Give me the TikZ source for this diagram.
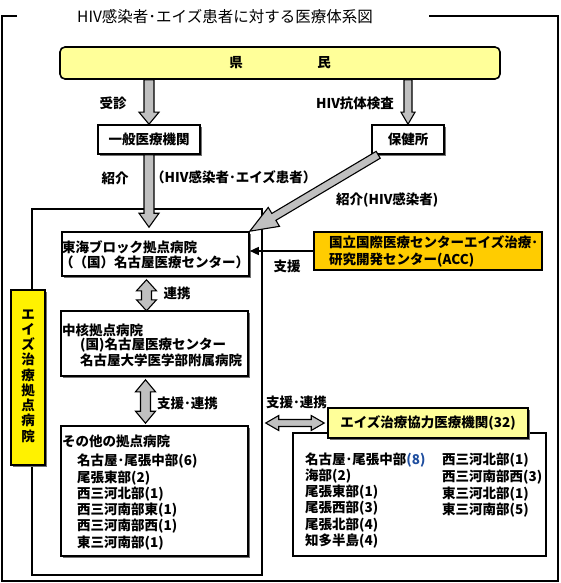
\documentclass[tikz,border=0pt]{standalone}
\usepackage{fontspec}
\setmainfont{Noto Sans CJK JP}
\usetikzlibrary{calc,shadows,arrows.meta}
\definecolor{ltyellow}{HTML}{FFFF99}
\definecolor{accorange}{HTML}{FFCC00}
\definecolor{arrowgray}{HTML}{C0C0C0}
\definecolor{numblue}{HTML}{1F4E9F}
\newcommand\blkarrow[5]{%
  \coordinate (bs) at (#1);
  \coordinate (bt) at (#2);
  \coordinate (bb) at ($(bt)!#5!(bs)$);
  \filldraw[blk] ($(bs)!#3!90:(bt)$) -- ($(bb)!#3!90:(bt)$) -- ($(bb)!#4!90:(bt)$) -- (bt)
    -- ($(bb)!#4!-90:(bt)$) -- ($(bb)!#3!-90:(bt)$) -- ($(bs)!#3!-90:(bt)$) -- cycle;
}
\newcommand\dblarrow[5]{%
  \coordinate (ds) at (#1);
  \coordinate (dt) at (#2);
  \coordinate (db1) at ($(ds)!#5!(dt)$);
  \coordinate (db2) at ($(dt)!#5!(ds)$);
  \filldraw[blk] (ds) -- ($(db1)!#4!90:(dt)$) -- ($(db1)!#3!90:(dt)$) -- ($(db2)!#3!-90:(ds)$)
    -- ($(db2)!#4!-90:(ds)$) -- (dt) -- ($(db2)!#4!90:(ds)$) -- ($(db2)!#3!90:(ds)$)
    -- ($(db1)!#3!-90:(dt)$) -- ($(db1)!#4!-90:(dt)$) -- cycle;
}
\tikzset{
  every node/.style={font=\bfseries\fontsize{13.5}{15}\selectfont, inner sep=0pt},
  box/.style={draw, line width=1.6pt, fill=white, rectangle},
  shad/.style={general shadow={fill=black!55, shadow xshift=2pt, shadow yshift=-2pt}},
  framebox/.style={draw, line width=1.5pt, rectangle},
  blk/.style={fill=arrowgray, draw=black, line width=1.1pt, line join=miter},
  txt/.style={anchor=west},
}
\begin{document}
\begin{tikzpicture}[x=1pt, y=-1pt]
\useasboundingbox (0,0) rectangle (560,583);
\fill[white] (0,0) rectangle (560,583);
% outer frame
\draw[line width=1.5pt] (17,16) -- (2,16) -- (2,581) -- (558,581) -- (558,16) -- (429,16);
\node[font=\fontsize{15.5}{17}\selectfont] (title) at (225,17) {HIV感染者･エイズ患者に対する医療体系図};
% top
\node[box, fill=ltyellow, rounded corners=5pt, minimum width=440pt, minimum height=32pt] (kenmin) at (280,63) {};
\node (ken) at (236,63) {県};
\node (min) at (324,63) {民};
\node[box, shad, minimum width=102pt, minimum height=29pt] (ippan) at (149,139.5) {一般医療機関};
\node[box, shad, minimum width=72pt, minimum height=29pt] (hoken) at (408,139.5) {保健所};
% inner frame
\node[framebox, minimum width=230pt, minimum height=366pt] (inner) at (147,392) {};
\node[box, shad, fill=yellow, minimum width=34pt, minimum height=175pt] (vbox) at (28,377.5) {};
\node[align=center, font=\bfseries\fontsize{13.5}{15.25}\selectfont] (vtext) at (28,376) {エ\\イ\\ズ\\治\\療\\拠\\点\\病\\院};
\node[box, shad, minimum width=187pt, minimum height=44pt] (toukai) at (155.5,254) {};
\node[txt] (t1) at (62,247) {東海ブロック拠点病院};
\node[txt] (t2) at (60,262) {（（国）名古屋医療センター）};
\node[box, shad, minimum width=187pt, minimum height=65pt] (chukaku) at (154.5,343.5) {};
\node[txt] (c1) at (62,330) {中核拠点病院};
\node[txt] (c2) at (80,345) {(国)名古屋医療センター};
\node[txt] (c3) at (80,360) {名古屋大学医学部附属病院};
\node[box, shad, minimum width=187pt, minimum height=130pt] (sonota) at (154.5,491) {};
\node[txt] (s0) at (62,441) {その他の拠点病院};
\node[txt] (s1) at (77,461.5) {名古屋･尾張中部(6)};
\node[txt] (s2) at (77,477.8) {尾張東部(2)};
\node[txt] (s3) at (77,494) {西三河北部(1)};
\node[txt] (s4) at (77,510.3) {西三河南部東(1)};
\node[txt] (s5) at (77,526.6) {西三河南部西(1)};
\node[txt] (s6) at (77,543) {東三河南部(1)};
% ACC
\node[box, fill=accorange, minimum width=228pt, minimum height=38pt] (acc) at (428,251) {};
\node[txt] (a1) at (329,242) {国立国際医療センターエイズ治療･};
\node[txt] (a2) at (329,260) {研究開発センター(ACC)};
% cooperating
\node[box, minimum width=253pt, minimum height=123pt] (list) at (419.5,494.5) {};
\node[box, shad, fill=ltyellow, minimum width=200pt, minimum height=30pt] (kyoryoku) at (428,423) {エイズ治療協力医療機関(32)};
\node[txt] (l1) at (305,460) {名古屋･尾張中部\textcolor{numblue}{(8)}};
\node[txt] (l2) at (305,476) {海部(2)};
\node[txt] (l3) at (305,492) {尾張東部(1)};
\node[txt] (l4) at (305,508.5) {尾張西部(3)};
\node[txt] (l5) at (305,525) {尾張北部(4)};
\node[txt] (l6) at (305,541.5) {知多半島(4)};
\node[txt] (r1) at (442,460) {西三河北部(1)};
\node[txt] (r2) at (442,477) {西三河南部西(3)};
\node[txt] (r3) at (442,494) {東三河北部(1)};
\node[txt] (r4) at (442,510.5) {東三河南部(5)};
% labels
\node (jushin) at (113,103) {受診};
\node (kotai) at (355,103) {HIV抗体検査};
\node (shokai) at (115,178) {紹介};
\node[txt] (kanja) at (151,177) {（HIV感染者･エイズ患者）};
\node[txt] (shokai2) at (336,200) {紹介(HIV感染者)};
\node (shien) at (287,266) {支援};
\node (renkei) at (177,293) {連携};
\node[txt] (shienrenkei) at (157,403) {支援･連携};
\node[txt] (shienrenkei2) at (266,402) {支援･連携};
% arrows
\blkarrow{kenmin.south -| ippan.north}{ippan.north}{5pt}{10pt}{12pt}
\blkarrow{kenmin.south -| hoken.north}{hoken.north}{4pt}{7pt}{12pt}
\blkarrow{ippan.south}{$(ippan.south |- toukai.north)+(0,-4)$}{5pt}{10pt}{14pt}
\blkarrow{$(hoken.south west)+(7,0)$}{toukai.north east}{4pt}{11pt}{28pt}
\dblarrow{$(toukai.south)+(-9,3)$}{$(toukai.south)+(-9,34)$}{5pt}{10pt}{11pt}
\dblarrow{$(chukaku.south)+(-9,3)$}{$(sonota.north)+(-9,-2)$}{5pt}{10pt}{12pt}
\dblarrow{$(inner.east |- kyoryoku.west)+(3,0)$}{$(kyoryoku.west)+(-3,0)$}{3.5pt}{7.5pt}{13pt}
\draw[line width=1.5pt, -{Triangle[length=9pt,width=8pt]}] (acc.west) -- (acc.west -| toukai.east);
\end{tikzpicture}
\end{document}
